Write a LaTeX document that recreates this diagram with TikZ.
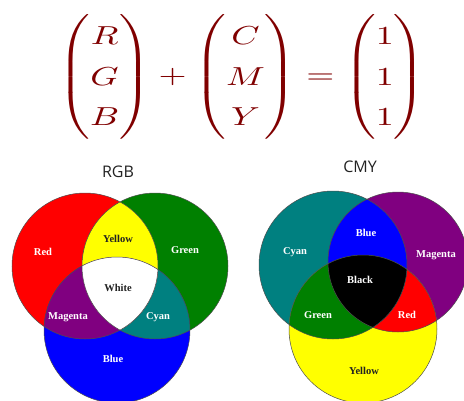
\documentclass[tikz,border=0pt]{standalone}
\usepackage{amsmath}
\usepackage{fontspec}
\setmainfont{Liberation Serif}
\newfontfamily\titlefont{Open Sans}
\usetikzlibrary{positioning}
\definecolor{maroon}{HTML}{800000}
\definecolor{pred}{HTML}{FF0000}
\definecolor{pgreen}{HTML}{008000}
\definecolor{pblue}{HTML}{0000FF}
\definecolor{pyellow}{HTML}{FFFF00}
\definecolor{pmagenta}{HTML}{800080}
\definecolor{pcyan}{HTML}{008080}
\definecolor{ink}{HTML}{222222}
\tikzset{
  lab/.style={font=\fontsize{10.5}{12}\selectfont\bfseries, text=white, inner sep=1pt},
  labdark/.style={lab, text=ink},
  ring/.style={draw=ink!80, line width=0.5pt},
  title/.style={font=\titlefont\fontsize{16}{19}\selectfont, text=ink}
}

\begin{document}
\begin{tikzpicture}[x=1pt, y=-1pt]
  \useasboundingbox (0,0) rectangle (464,400);
  \clip (0,0) rectangle (464,400);
  % equation
  \node[text=maroon, inner sep=0pt, xscale=3.6, yscale=2.6] (eq) at (242,77)
    {$\renewcommand{\arraystretch}{1.3}\begin{pmatrix}R\\G\\B\end{pmatrix}+\begin{pmatrix}C\\M\\Y\end{pmatrix}=\begin{pmatrix}1\\1\\1\end{pmatrix}$};
  % RGB
  \coordinate (r) at (85,266);
  \coordinate (g) at (155,266);
  \coordinate (b) at (117,330);
  \fill[pred] (r) circle (73);
  \fill[pgreen] (g) circle (73);
  \fill[pblue] (b) circle (73);
  \begin{scope}
    \clip (g) circle (73);
    \fill[pcyan] (b) circle (73);
  \end{scope}
  \begin{scope}
    \clip (r) circle (73);
    \fill[pyellow] (g) circle (73);
    \fill[pmagenta] (b) circle (73);
    \clip (g) circle (73);
    \fill[white] (b) circle (73);
  \end{scope}
  \foreach \c in {r,g,b} \draw[ring] (\c) circle (73);
  \node[title] (rgb) at (118,172) {RGB};
  \node[lab] (lred) at (43,252) {Red};
  \node[labdark] (lyellow) at (118,239) {Yellow};
  \node[lab] (lgreen) at (185,250) {Green};
  \node[labdark] (lwhite) at (118,288) {White};
  \node[lab] (lmagenta) at (68,317) {Magenta};
  \node[lab] (lcyan) at (158,317) {Cyan};
  \node[lab] (lblue) at (113,359) {Blue};
  % CMY
  \coordinate (c) at (333,265);
  \coordinate (m) at (398,262);
  \coordinate (y) at (363,329);
  \fill[pcyan] (c) circle (74);
  \fill[pmagenta] (m) circle (70);
  \fill[pyellow] (y) circle (74);
  \begin{scope}
    \clip (m) circle (70);
    \fill[pred] (y) circle (74);
  \end{scope}
  \begin{scope}
    \clip (c) circle (74);
    \fill[pblue] (m) circle (70);
    \fill[pgreen] (y) circle (74);
    \clip (m) circle (70);
    \fill[black] (y) circle (74);
  \end{scope}
  \draw[ring] (c) circle (74) (m) circle (70) (y) circle (74);
  \node[title] (cmy) at (360,167) {CMY};
  \node[lab] (kcyan) at (295,252) {Cyan};
  \node[lab] (kblue) at (366,233) {Blue};
  \node[lab] (kmagenta) at (436,255) {Magenta};
  \node[lab] (kblack) at (360,280) {Black};
  \node[lab] (kgreen) at (318,315) {Green};
  \node[lab] (kred) at (407,315) {Red};
  \node[labdark] (kyellow) at (364,371) {Yellow};
\end{tikzpicture}
\end{document}
